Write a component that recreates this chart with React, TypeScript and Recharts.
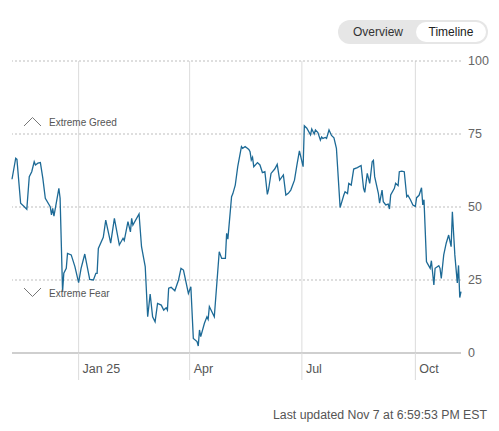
import React from "react";
import { LineChart, Line, XAxis, YAxis, ReferenceLine } from "recharts";

// days since Nov 8, 2024
const days = [
  0, 3, 4, 7, 10, 12, 14, 16, 18, 19, 21, 23, 25, 27, 31, 32, 33, 34, 38, 39,
  41, 42, 44, 45, 48, 51, 54, 56, 59, 63, 66, 68, 69, 70, 74, 76, 80, 83, 87, 90,
  91, 94, 96, 97, 98, 103, 105, 108, 110, 112, 114, 116, 118, 121, 123, 125, 126, 127, 129, 132,
  135, 137, 139, 143, 145, 147, 150, 151, 152, 153, 156, 158, 159, 160, 164, 168, 170, 173, 174, 175,
  178, 179, 181, 183, 186, 187, 189, 192, 193, 194, 195, 196, 199, 201, 203, 205, 207, 208, 210, 213,
  215, 217, 220, 222, 224, 226, 229, 231, 233, 236, 237, 239, 242, 243, 245, 246, 248, 250, 251, 252,
  254, 255, 257, 259, 261, 263, 266, 269, 270, 272, 273, 275, 277, 280, 283, 285, 286, 288, 290, 292,
  293, 294, 297, 298, 300, 301, 303, 305, 306, 307, 310, 311, 313, 314, 316, 318, 320, 321, 323, 325,
  327, 328, 330, 332, 333, 334, 336, 337, 339, 340, 342, 343, 346, 347, 348, 350, 352, 354, 356, 357,
  359, 361, 362, 363, 364,
];
const values = [
  59.5, 66.7, 66.3, 51.3, 50.1, 49.2, 60.4, 62.1, 65.5, 64.4, 65, 65.2, 59.8, 53, 50.1, 47.3, 49.5, 46.9, 56.4, 53,
  21, 27.3, 29, 34.1, 33.6, 29.6, 24.1, 29, 33.9, 25.2, 25, 27.3, 27.3, 35.8, 39.6, 45.5, 37.6, 46.1, 37, 39.3,
  38.5, 45, 41.5, 46.1, 43.8, 47.6, 36.4, 29.6, 12.4, 20.2, 12.4, 10.7, 17, 16.4, 14.7, 15.5, 14.7, 22.2, 22.5, 21.3,
  25, 29, 28.4, 20.4, 22.7, 5, 3.9, 2.4, 7.9, 5.6, 10.2, 12.4, 11.5, 15.9, 12.4, 34.7, 32.4, 32.4, 41, 39,
  53.5, 54.5, 57.5, 63.8, 70.7, 70.1, 70.7, 69.7, 68.9, 66.1, 67, 63.8, 65.2, 64.4, 61.8, 62.1, 54.3, 56, 61.5, 63,
  64.6, 59.2, 61, 54.1, 54.7, 55.8, 59.2, 64.4, 69.2, 63.8, 77.8, 77, 74.7, 76.7, 75, 76.4, 75.5, 72.9, 74, 73.5,
  73.8, 73.5, 76.4, 74.5, 73.7, 70.1, 49.8, 54.1, 55.2, 54.6, 58.1, 57.5, 63, 63.5, 64.2, 56.4, 55, 61.5, 58.1, 65.5,
  66, 60.4, 54.7, 51.3, 55.8, 51.8, 50.7, 51, 49.3, 54.1, 56.4, 58.1, 57.3, 62.1, 62.3, 62.1, 53.5, 54, 52.5, 50.7,
  50.2, 53.2, 54, 56.6, 50.7, 52.5, 31.3, 30.5, 29, 31.6, 23.3, 29, 29.9, 29, 25.5, 33.6, 37.6, 40.4, 36.4, 48.4,
  33.6, 24, 30, 19, 21,
];
const monthTicks = [54, 144, 235, 327];
const monthLabels = ["Jan 25", "Apr", "Jul", "Oct"];
const valueTicks = [0, 25, 50, 75, 100];
const zoneLabels = ["Extreme Greed", "Extreme Fear"];
const toggleLabels = ["Overview", "Timeline"];
const updatedText = "Last updated Nov 7 at 6:59:53 PM EST";

const data = days.map((d, i) => ({ day: d, value: values[i] }));

const FONT = '"Liberation Sans", Arial, Helvetica, sans-serif';

const MonthTick = (props: any) => {
  const { x, y, payload } = props;
  const idx = monthTicks.indexOf(payload.value);
  return (
    <text x={x + 4} y={y - 7} fill="#555" fontSize={12.5} fontFamily={FONT} textAnchor="start">
      {monthLabels[idx]}
    </text>
  );
};

export default function App() {
  return (
    <div style={{ position: "absolute", left: 0, top: 0, width: 499, height: 431, fontFamily: FONT, background: "#fff" }}>
      <LineChart
        width={499}
        height={431}
        data={data}
        margin={{ top: 61, right: 0, bottom: 48, left: 12 }}
      >
        {monthTicks.map((t) => (
          <ReferenceLine key={"x" + t} x={t} stroke="#dcdcdc" strokeWidth={1} />
        ))}
        {valueTicks.filter((v) => v > 0).map((v) => (
          <ReferenceLine key={v} y={v} stroke="#bdbdbd" strokeDasharray="2 2" strokeWidth={1} />
        ))}
        <ReferenceLine y={0} stroke="#cfcfcf" strokeWidth={2} />
        <XAxis
          dataKey="day"
          type="number"
          domain={[0, 364]}
          ticks={monthTicks}
          axisLine={false}
          tickLine={{ stroke: "#dcdcdc", strokeWidth: 1 }}
          tickSize={27}
          tickMargin={0}
          height={30}
          tick={<MonthTick />}
          interval={0}
        />
        <YAxis
          orientation="right"
          domain={[0, 100]}
          ticks={valueTicks}
          axisLine={false}
          tickLine={false}
          width={38}
          tick={{ fill: "#666", fontSize: 12.5, fontFamily: FONT, textAnchor: "start" }}
          tickMargin={1}
          interval={0}
        />
        <Line
          type="linear"
          dataKey="value"
          stroke="#1d6a96"
          strokeWidth={1.3}
          dot={false}
          isAnimationActive={false}
        />
      </LineChart>

      {/* zone annotations */}
      <svg style={{ position: "absolute", left: 0, top: 0 }} width={499} height={431} pointerEvents="none">
        <polyline points="24,126 32.5,117.5 41,126" fill="none" stroke="#777" strokeWidth={1} />
        <text x={49} y={125.5} fontSize={10} fill="#555" fontFamily={FONT}>{zoneLabels[0]}</text>
        <polyline points="24,288 32.5,296.5 41,288" fill="none" stroke="#777" strokeWidth={1} />
        <text x={49} y={296.5} fontSize={10} fill="#555" fontFamily={FONT}>{zoneLabels[1]}</text>
      </svg>

      {/* toggle */}
      <div
        style={{
          position: "absolute",
          left: 338,
          top: 20,
          width: 150,
          height: 24,
          borderRadius: 12,
          background: "#e6e6e6",
        }}
      >
        <div style={{ position: "absolute", left: 15, top: 0, height: 24, lineHeight: "24px", fontSize: 12, color: "#333" }}>
          {toggleLabels[0]}
        </div>
        <div
          style={{
            position: "absolute",
            left: 78,
            top: 2,
            width: 70,
            height: 20,
            borderRadius: 10,
            background: "#fff",
            textAlign: "center",
            lineHeight: "20px",
            fontSize: 12,
            color: "#222",
          }}
        >
          {toggleLabels[1]}
        </div>
      </div>

      {/* last updated */}
      <div
        style={{
          position: "absolute",
          right: 12,
          top: 407,
          fontSize: 12.3,
          lineHeight: "16px",
          color: "#555",
          whiteSpace: "nowrap",
        }}
      >
        {updatedText}
      </div>
    </div>
  );
}
